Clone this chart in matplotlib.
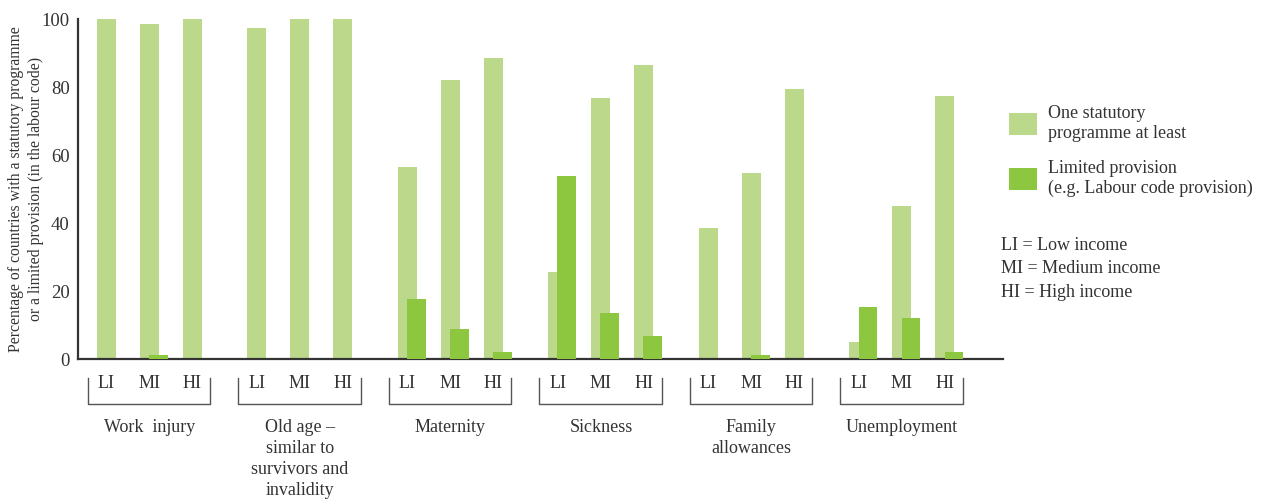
#!/usr/bin/env python3
import matplotlib
matplotlib.use('Agg')
import matplotlib.pyplot as plt
from matplotlib.patches import Patch
import numpy as np

plt.rcParams['font.family'] = ['Liberation Serif', 'DejaVu Serif']

# data
categories = ['Work  injury', 'Old age \u2013\nsimilar to\nsurvivors and\ninvalidity',
              'Maternity', 'Sickness', 'Family\nallowances', 'Unemployment']
income_levels = ['LI', 'MI', 'HI']
statutory = [[100, 98.5, 100],
             [97.4, 100, 100],
             [56.5, 82, 88.5],
             [25.6, 76.8, 86.5],
             [38.5, 54.7, 79.4],
             [5, 45, 77.4]]
limited = [[0, 1.2, 0],
           [0, 0, 0],
           [17.6, 8.8, 2],
           [53.8, 13.5, 6.8],
           [0, 1.2, 0],
           [15.3, 12, 2]]
legend_labels = ['One statutory\nprogramme at least',
                 'Limited provision\n(e.g. Labour code provision)']
income_note = 'LI = Low income\nMI = Medium income\nHI = High income'
ylabel = 'Percentage of countries with a statutory programme\nor a limited provision (in the labour code)'

LIGHT = '#bcd98b'
DARK = '#8dc63f'
TXT = '#333333'

GROUP_GAP = 3.5
W = 0.44
OFF = 0.21

fig = plt.figure(figsize=(12.66, 4.99), dpi=100)
ax = fig.add_axes([78/1266, 1-359/499, (1003-78)/1266, 340/499])

x = np.array([g*GROUP_GAP + i for g in range(len(categories)) for i in range(3)], dtype=float)
s_vals = np.array(statutory).ravel()
l_vals = np.array(limited).ravel()

ax.bar(x, s_vals, width=W, color=LIGHT, zorder=2)
ax.bar(x + OFF, l_vals, width=W, color=DARK, zorder=3)

ax.set_xlim(-0.66, 20.85)
ax.set_ylim(0, 100)
ax.set_yticks([0, 20, 40, 60, 80, 100])
ax.tick_params(axis='y', length=0, labelsize=13.5, colors=TXT, pad=6)
ax.set_xticks([])
for sp in ['top', 'right']:
    ax.spines[sp].set_visible(False)
for sp in ['left', 'bottom']:
    ax.spines[sp].set_linewidth(1.6)
    ax.spines[sp].set_color('#333333')

ax.text(-0.056, 0.5, ylabel, transform=ax.transAxes, rotation=90, ha='center', va='center',
        fontsize=11.3, color=TXT, linespacing=1.3)

# group labels with brackets beneath the axis
trans = ax.get_xaxis_transform()
def ay(py):
    return (359 - py) / 340.0

for g, cat in enumerate(categories):
    x0 = g*GROUP_GAP
    for i, lev in enumerate(income_levels):
        ax.text(x0 + i, ay(384), lev, transform=trans, ha='center', va='center',
                fontsize=13, color=TXT)
    bl, br = x0 - 0.43, x0 + 2.41
    ax.plot([bl, bl, br, br], [ay(378), ay(404), ay(404), ay(378)], transform=trans,
            color='#555555', lw=1.0, clip_on=False)
    ax.text(x0 + 1, ay(419), cat, transform=trans, ha='center', va='top',
            fontsize=13, color=TXT, linespacing=1.3)

handles = [Patch(facecolor=LIGHT), Patch(facecolor=DARK)]
fig.legend(handles, legend_labels, loc='upper left', bbox_to_anchor=(993/1266, 1-89/499),
           frameon=False, fontsize=13, handlelength=1.55, handleheight=1.55,
           labelspacing=1.0, handletextpad=0.6, labelcolor=TXT)

fig.text(1001/1266, 1-237/499, income_note, ha='left', va='top', fontsize=13,
         color=TXT, linespacing=1.5)

fig.savefig('out.png', dpi=100)
